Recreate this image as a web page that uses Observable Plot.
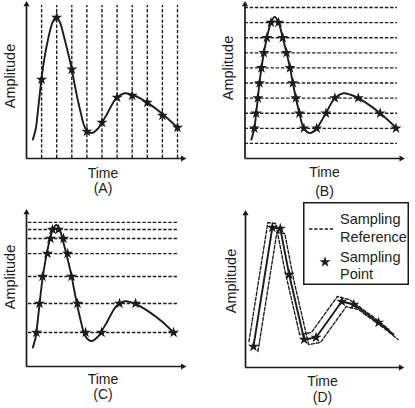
<!DOCTYPE html>
<html><head><meta charset="utf-8">
<script src="https://cdn.jsdelivr.net/npm/d3@7"></script>
<script src="https://cdn.jsdelivr.net/npm/@observablehq/plot@0.6"></script>
<style>
html,body{margin:0;padding:0;background:#fff;}
#fig{position:relative;width:415px;height:408px;overflow:hidden;}
#fig svg{position:absolute;overflow:visible;}
</style></head><body><div id="fig"></div>
<script>
// ---------- data (time, amplitude in axis units) ----------
const signalTime = [0.42,0.62,0.74,0.85,0.96,1.09,1.25,1.45,1.72,1.97,2.22,2.5,2.75,2.98,3.17,3.37,3.6,3.9,4.3,4.75,5.0,5.36,5.95,6.5,7.0,7.5,8.0,8.95,10.05];
const signalAmp  = [1.25,2,3,4,5,6,7,8,9,9.38,9,8,7,6,5,4,3,2,1.68,2,2.38,3,4,4.32,4.22,4.0,3.7,3.0,2.0];

// (A) uniform time sampling
const timeRefA = [1,2,3,4,5,6,7,8,9,10];
const starAmpA = [5.23,9.34,5.9,1.79,2.38,4.04,4.17,3.7,2.85,2.05];

// (B) uniform amplitude sampling
const levelsB = [1,2,3,4,5,6,7,8,9,10];
const starTimeB  = [0.62,0.74,0.85,0.96,1.09,1.25,1.45,1.72, 2.22,2.5,2.75,2.98,3.17,3.37,3.6,3.9, 4.75,5.36,5.95, 7.5,8.95,10.0];
const starLevelB = [2,3,4,5,6,7,8,9, 9,8,7,6,5,4,3,2, 2,3,4, 4,3,2];

// (C) non-uniform amplitude sampling
const levelsC = [2.25,4.17,5.96,7.48,8.48,9.07,9.54];
const starTimeC  = [0.66,0.86,1.06,1.39,1.59,1.72, 2.12,2.45,2.72,2.98,3.38,3.91, 4.97,6.16,7.22,9.74];
const starLevelC = [2.25,4.17,5.96,7.48,8.48,9.07, 9.07,8.48,7.48,5.96,4.17,2.25, 2.25,4.17,4.17,2.25];
const curveEndC = {t: 9.74, a: 2.25};

// (D) adaptive sampling
const starTimeD = [0.53,1.79,2.32,2.91,3.91,4.7,6.42,7.22,8.87];
const starAmpD  = [1.39,9.27,9.2,6.16,1.85,1.99,4.37,4.17,2.98];
const curveEndD = {t: 9.87, a: 2.19};

const legendLabels = [["Sampling","Reference"],["Sampling","Point"]];
const panelTags = ["(A)","(B)","(C)","(D)"];
const xLabel = "Time", yLabel = "Amplitude";

// ---------- style ----------
const FONT = '"Liberation Sans", Arial, Helvetica, sans-serif';
const INK = "#1c1c1c";
const DASH = "3.4,1.8";
const DASH_W = 1.35;
const X_TIP = 10.35, Y_TIP = 10.2;
const STAR_R = 3.5;

const signal = signalTime.map((t,i)=>({t, a: signalAmp[i]}));
const zipTA = (T,A)=>T.map((t,i)=>({t, a: A[i]}));

function axesAndLabels(tag, o) {
  return [
    Plot.ruleY([0], {x1: 0, x2: X_TIP, stroke: INK, strokeWidth: 1.7}),
    Plot.ruleX([0], {y1: 0, y2: Y_TIP, stroke: INK, strokeWidth: 1.7}),
    Plot.dot([0], {x: X_TIP, y: 0, symbol: "triangle", rotate: 90, r: 2.3, fill: INK, stroke: "none"}),
    Plot.dot([0], {x: 0, y: Y_TIP, symbol: "triangle", r: 2.3, fill: INK, stroke: "none"}),
    Plot.text([yLabel], {frameAnchor: "left", rotate: -90, dx: o.ampDx, dy: o.ampDy, textAnchor: "middle", lineAnchor: "middle", fontSize: 14.5, fill: INK}),
    Plot.text([xLabel], {frameAnchor: "bottom", dx: o.timeDx, dy: o.timeDy, textAnchor: "middle", lineAnchor: "middle", fontSize: 14, fill: INK}),
    Plot.text([tag], {frameAnchor: "bottom", dx: o.timeDx, dy: o.tagDy, textAnchor: "middle", lineAnchor: "middle", fontSize: 14, fill: INK})
  ];
}

function panel(m, marks, tag, o, left, top) {
  const svg = Plot.plot({
    width: 207, height: 204,
    marginLeft: m[0], marginRight: m[1], marginTop: m[2], marginBottom: m[3],
    x: {domain: [0,10], axis: null},
    y: {domain: [0,10], axis: null},
    style: {fontFamily: FONT, background: "transparent", color: INK, overflow: "visible"},
    marks: [...marks, ...axesAndLabels(tag, o)]
  });
  svg.style.left = left + "px";
  svg.style.top = top + "px";
  document.getElementById("fig").appendChild(svg);
}

const lineOpts = {x: "t", y: "a", stroke: INK, strokeWidth: 1.9};
const dashOpts = {stroke: INK, strokeWidth: DASH_W, strokeDasharray: DASH};
const starOpts = {x: "t", y: "a", symbol: "star", r: STAR_R, fill: INK, stroke: "none"};

// (A)
panel([26,30,7,46], [
  Plot.ruleX(timeRefA, {y1: 0, y2: 10.13, ...dashOpts}),
  Plot.line(signal, {...lineOpts, curve: "catmull-rom"}),
  Plot.dot(zipTA(timeRefA, starAmpA), starOpts)
], panelTags[0], {ampDx: -16, ampDy: -7, timeDx: 1, timeDy: 15, tagDy: 30}, 0, 0);

// (B)
panel([37.5,18.5,7,46], [
  Plot.ruleY(levelsB, {x1: 0, x2: 10.1, ...dashOpts}),
  Plot.line(signal, {...lineOpts, curve: "catmull-rom"}),
  Plot.dot(zipTA(starTimeB, starLevelB), starOpts)
], panelTags[1], {ampDx: -17, ampDy: -15, timeDx: 4, timeDy: 14, tagDy: 33}, 207, 0);

// (C)
const signalC = [...signal.filter(d => d.t < curveEndC.t - 0.2), curveEndC];
panel([26,30,11,42], [
  Plot.ruleY(levelsC, {x1: 0.13, x2: 10, ...dashOpts}),
  Plot.line(signalC, {...lineOpts, curve: "catmull-rom"}),
  Plot.dot(zipTA(starTimeC, starLevelC), starOpts)
], panelTags[2], {ampDx: -16, ampDy: -14, timeDx: 1, timeDy: 13, tagDy: 28}, 0, 204);

// (D)
const pathD = [...zipTA(starTimeD, starAmpD), curveEndD];
panel([38,19,12,41], [
  Plot.line(pathD, {x: "t", y: "a", curve: "linear", ...dashOpts, dx: -4.5, dy: -5}),
  Plot.line(pathD, {x: "t", y: "a", curve: "linear", ...dashOpts, dx: 4.5, dy: 5}),
  Plot.line(pathD, {...lineOpts, curve: "linear", strokeLinejoin: "round"}),
  Plot.dot(zipTA(starTimeD, starAmpD), starOpts)
], panelTags[3], {ampDx: -14, ampDy: -11, timeDx: 2, timeDy: 14, tagDy: 30}, 207, 204);

// legend (panel D)
const lg = d3.select("#fig").append("svg")
  .attr("width", 106).attr("height", 83)
  .style("left", "303px").style("top", "202px");
lg.append("rect").attr("x", 0.75).attr("y", 0.75).attr("width", 104.5).attr("height", 81.5)
  .attr("fill", "#fff").attr("stroke", INK).attr("stroke-width", 1.5);
lg.append("line").attr("x1", 6).attr("x2", 32).attr("y1", 27).attr("y2", 27)
  .attr("stroke", INK).attr("stroke-width", DASH_W).attr("stroke-dasharray", DASH);
lg.append("path").attr("d", d3.symbol(d3.symbolStar, Math.PI * STAR_R * STAR_R)())
  .attr("transform", "translate(22,60)").attr("fill", INK);
const rowY = [[17,35],[55,72]];
legendLabels.forEach((pair, i) => pair.forEach((s, j) => {
  lg.append("text").attr("x", 37).attr("y", rowY[i][j]).attr("dy", "0.35em")
    .attr("font-family", FONT).attr("font-size", 14.5).attr("fill", INK).text(s);
}));
</script>
</body></html>
